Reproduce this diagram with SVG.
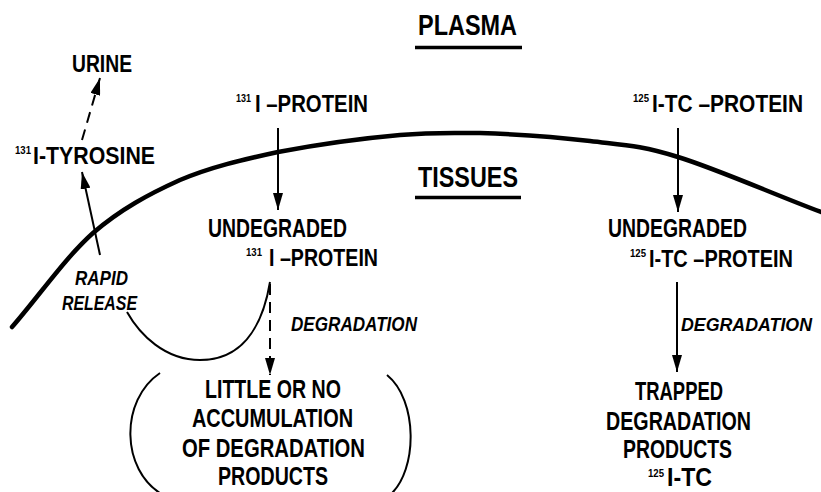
<svg xmlns="http://www.w3.org/2000/svg" width="821" height="492" viewBox="0 0 821 492">
<defs>
<style>
text{font-family:"Liberation Sans Narrow","Liberation Sans",Arial,sans-serif;font-weight:bold;fill:#000}
.lbl{font-size:23px}
.big{font-size:26px}
.mid{font-size:23px}
.head{font-size:29px}
.it{font-size:20px;font-style:italic}
.itr{font-size:19px;font-style:italic}
.sup{font-size:10.5px}
.ln{fill:none;stroke:#000;stroke-width:2}
.dash{stroke-dasharray:11 7}
.ul{stroke:#000;stroke-width:3.5;fill:none}
</style>
<marker id="ah" viewBox="0 0 17 10" refX="17" refY="5" markerWidth="17" markerHeight="10" markerUnits="userSpaceOnUse" orient="auto">
<path d="M0,0 L17,5 L0,10 z" fill="#000"/>
</marker>
</defs>
<rect width="821" height="492" fill="#fff"/>

<g id="membrane">
<path d="M12,327 C39,296 65,258 93,233 C121,209 149,194 180,180 C211,167 241,160 278,152 C315,145 366,138 400,135 C434,132 448,133 480,133 C512,134 557,137 590,141 C623,145 640,145 678,157 C717,169 773,194 821,212" fill="none" stroke="#000" stroke-width="4.5" stroke-linecap="round"/>
</g>

<g id="connectors">
<path class="ln dash" d="M82,140 L100,78" marker-end="url(#ah)"/>
<path class="ln" d="M100,255 L82,172" marker-end="url(#ah)"/>
<path class="ln" d="M278,128 L278,210" marker-end="url(#ah)"/>
<path class="ln" d="M678,128 L678,212" marker-end="url(#ah)"/>
<path class="ln" d="M270,282 C262,330 240,360 200,360 C165,360 140,335 127,312"/>
<path class="ln dash" d="M270,284 L270,375" marker-end="url(#ah)"/>
<path class="ln" d="M677,282 L677,372" marker-end="url(#ah)"/>
</g>

<g id="plasma">
<text class="head" x="418" y="35" textLength="99" lengthAdjust="spacingAndGlyphs">PLASMA</text>
<line class="ul" x1="415" y1="47.5" x2="522" y2="47.5"/>
</g>

<g id="tissues">
<text class="head" x="418" y="187" textLength="100" lengthAdjust="spacingAndGlyphs">TISSUES</text>
<line class="ul" x1="415" y1="197.5" x2="521" y2="197.5"/>
</g>

<g id="urine">
<text class="lbl" x="72" y="72" textLength="60" lengthAdjust="spacingAndGlyphs">URINE</text>
</g>

<g id="tyrosine">
<text class="sup" x="15" y="154" textLength="16" lengthAdjust="spacingAndGlyphs">131</text>
<text class="lbl" x="33" y="164" textLength="122" lengthAdjust="spacingAndGlyphs">I-TYROSINE</text>
</g>

<g id="plasma-131-protein">
<text class="sup" x="236" y="102" textLength="15" lengthAdjust="spacingAndGlyphs">131</text>
<text class="lbl" x="255" y="112" textLength="113" lengthAdjust="spacingAndGlyphs">I –PROTEIN</text>
</g>

<g id="plasma-125-protein">
<text class="sup" x="633" y="102" textLength="16" lengthAdjust="spacingAndGlyphs">125</text>
<text class="lbl" x="652" y="112" textLength="151" lengthAdjust="spacingAndGlyphs">I-TC –PROTEIN</text>
</g>

<g id="undegraded-131">
<text class="big" x="208" y="237" textLength="139" lengthAdjust="spacingAndGlyphs">UNDEGRADED</text>
<text class="sup" x="246" y="256" textLength="16" lengthAdjust="spacingAndGlyphs">131</text>
<text class="mid" x="269" y="266" textLength="109" lengthAdjust="spacingAndGlyphs">I –PROTEIN</text>
</g>

<g id="undegraded-125">
<text class="big" x="608" y="237" textLength="139" lengthAdjust="spacingAndGlyphs">UNDEGRADED</text>
<text class="sup" x="630" y="257" textLength="16" lengthAdjust="spacingAndGlyphs">125</text>
<text class="mid" x="649" y="267" textLength="144" lengthAdjust="spacingAndGlyphs">I-TC –PROTEIN</text>
</g>

<g id="rapid-release">
<text class="it" x="75" y="285" textLength="53" lengthAdjust="spacingAndGlyphs">RAPID</text>
<text class="it" x="62" y="310" textLength="75" lengthAdjust="spacingAndGlyphs">RELEASE</text>
</g>

<g id="degradation-131">
<text class="it" x="291" y="331" textLength="126" lengthAdjust="spacingAndGlyphs">DEGRADATION</text>
</g>

<g id="degradation-125">
<text class="itr" x="681" y="331" textLength="131" lengthAdjust="spacingAndGlyphs">DEGRADATION</text>
</g>

<g id="little-accumulation">
<path class="ln" d="M160,373 C120,400 120,470 163,495"/>
<path class="ln" d="M387,375 C418,400 418,470 390,495"/>
<text class="big" x="205" y="398" textLength="136" lengthAdjust="spacingAndGlyphs">LITTLE OR NO</text>
<text class="big" x="192" y="427" textLength="161" lengthAdjust="spacingAndGlyphs">ACCUMULATION</text>
<text class="big" x="182" y="457" textLength="183" lengthAdjust="spacingAndGlyphs">OF DEGRADATION</text>
<text class="big" x="218" y="485" textLength="110" lengthAdjust="spacingAndGlyphs">PRODUCTS</text>
</g>

<g id="trapped-products">
<text class="big" x="635" y="400" textLength="88" lengthAdjust="spacingAndGlyphs">TRAPPED</text>
<text class="big" x="606" y="430" textLength="145" lengthAdjust="spacingAndGlyphs">DEGRADATION</text>
<text class="big" x="623" y="458" textLength="109" lengthAdjust="spacingAndGlyphs">PRODUCTS</text>
<text class="sup" x="648" y="477" textLength="16" lengthAdjust="spacingAndGlyphs">125</text>
<text x="667" y="486" font-size="25" textLength="45" lengthAdjust="spacingAndGlyphs">I-TC</text>
</g>
</svg>
